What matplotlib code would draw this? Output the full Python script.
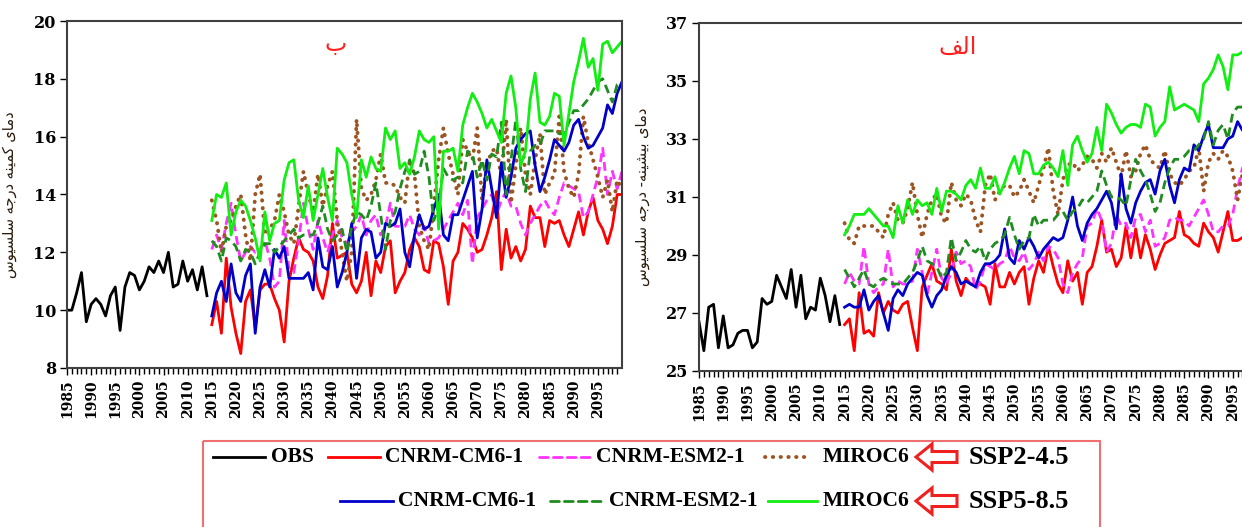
import numpy as np
import matplotlib
matplotlib.use("Agg")
import matplotlib.pyplot as plt
from matplotlib.patches import Rectangle, FancyArrow
from matplotlib.lines import Line2D

# ---------------- data ----------------
obs_years = list(range(1985, 2015))
fut_years = list(range(2015, 2101))

# Panel "ب" : minimum temperature
obs_min = [10.0, 10.0, 10.6, 11.3, 9.6, 10.2, 10.4, 10.2, 9.8, 10.5,
           10.8, 9.3, 10.8, 11.3, 11.2, 10.7, 11.0, 11.5, 11.3, 11.7,
           11.3, 12.0, 10.8, 10.9, 11.7, 11.0, 11.4, 10.7, 11.5, 10.5]

cm6_245_min = [9.5, 10.3, 9.2, 11.8, 10.1, 9.2, 8.5, 10.3, 10.7, 9.4,
               10.7, 10.9, 10.9, 10.4, 10.0, 8.9, 11.0, 11.8, 12.5, 12.1,
               12.0, 11.7, 10.8, 10.4, 11.2, 13.0, 11.8, 11.9, 12.0, 10.9,
               10.6, 11.0, 12.0, 10.5, 11.7, 11.3, 12.2, 12.4, 10.6, 11.0,
               11.3, 12.1, 12.5, 12.2, 11.4, 11.3, 12.4, 12.3, 11.5, 10.2,
               11.7, 12.0, 13.0, 12.8, 12.5, 12.0, 12.1, 12.6, 13.2, 14.1,
               11.4, 12.8, 11.8, 12.2, 11.7, 12.1, 13.6, 13.2, 13.2, 12.2,
               13.1, 13.0, 13.1, 12.6, 12.2, 12.8, 13.4, 12.6, 13.4, 13.9,
               13.1, 12.8, 12.3, 12.9, 14.0, 14.0]

esm2_245_min = [12.1, 12.6, 12.1, 13.0, 13.7, 12.6, 11.7, 12.0, 12.2, 12.0,
                12.1, 12.4, 11.8, 10.8, 11.0, 13.1, 11.4, 11.3, 12.4, 13.7,
                12.8, 12.1, 13.1, 12.5, 12.0, 12.6, 13.1, 12.5, 12.3, 12.7,
                12.9, 13.3, 12.6, 13.1, 13.3, 12.6, 12.9, 13.7, 12.9, 12.9,
                12.9, 13.3, 12.8, 12.6, 12.9, 12.3, 12.4, 12.5, 12.8, 13.1,
                13.4, 13.7, 13.3, 13.8, 11.6, 13.2, 13.5, 13.8, 14.0, 13.3,
                13.8, 14.1, 13.6, 13.6, 13.0, 12.6, 13.0, 13.3, 13.6, 13.8,
                13.5, 13.3, 13.9, 14.4, 14.3, 14.2, 14.1, 13.2, 13.4, 14.0,
                14.6, 15.6, 14.0, 14.8, 14.2, 14.8]

miroc_245_min = [13.8, 13.1, 12.0, 12.9, 13.1, 13.6, 14.0, 12.6, 11.7, 14.0,
                 14.7, 12.6, 12.8, 13.1, 14.0, 13.4, 12.6, 12.3, 13.6, 14.8,
                 14.0, 13.4, 14.7, 13.6, 14.3, 14.8, 13.1, 12.0, 11.0, 12.0,
                 16.6, 14.2, 13.8, 14.0, 14.5, 15.4, 14.4, 14.4, 14.3, 13.9,
                 13.7, 15.2, 14.7, 12.9, 12.4, 12.1, 13.6, 15.2, 16.3, 15.4,
                 14.7, 14.0, 15.9, 15.5, 15.2, 16.3, 13.8, 15.0, 15.5, 15.6,
                 14.6, 16.6, 13.7, 15.0, 16.3, 14.7, 14.0, 15.2, 16.1, 14.0,
                 14.4, 14.7, 16.7, 14.8, 14.2, 13.9, 14.7, 16.7, 15.8, 15.2,
                 14.6, 13.9, 14.5, 13.4, 14.5, 14.2]

cm6_585_min = [9.8, 10.6, 11.0, 10.3, 11.6, 10.6, 10.3, 11.2, 11.6, 9.2,
               10.8, 11.4, 10.8, 12.1, 11.8, 12.2, 11.1, 11.1, 11.1, 11.1,
               11.3, 10.7, 12.5, 11.5, 11.4, 12.2, 10.8, 11.3, 12.0, 13.0,
               11.1, 12.5, 12.8, 12.7, 11.8, 12.0, 13.0, 12.9, 13.0, 13.5,
               12.0, 11.5, 12.6, 13.3, 12.8, 12.9, 13.5, 14.0, 12.6, 12.4,
               13.3, 13.3, 13.8, 14.3, 14.8, 12.5, 13.5, 15.2, 14.2, 13.2,
               15.1, 13.9, 14.6, 15.6, 15.9, 16.1, 16.2, 15.0, 14.1, 14.6,
               15.2, 15.9, 15.7, 15.5, 15.8, 16.4, 16.6, 16.0, 15.6, 15.7,
               16.0, 16.3, 17.1, 16.8, 17.5, 17.9]

esm2_585_min = [12.4, 12.2, 11.7, 12.5, 12.4, 12.2, 11.7, 12.1, 12.0, 11.6,
                12.0, 12.3, 12.3, 12.0, 12.2, 12.4, 12.6, 12.8, 12.5, 12.6,
                12.6, 12.6, 13.0, 13.6, 12.8, 12.4, 12.6, 12.8, 12.0, 12.9,
                13.4, 13.3, 13.1, 13.6, 14.4, 13.3, 12.1, 13.1, 13.4, 14.2,
                14.8, 15.2, 14.7, 14.8, 15.5, 14.6, 13.1, 13.6, 14.9, 14.6,
                14.5, 14.6, 14.4, 15.5, 15.4, 14.6, 15.2, 14.5, 15.4, 15.3,
                16.5, 14.0, 15.2, 16.6, 14.9, 14.1, 15.5, 15.7, 15.7, 16.2,
                16.2, 16.2, 16.1, 16.1, 16.5, 16.9, 16.9, 17.1, 17.3, 17.6,
                17.9, 18.0, 17.6, 17.2, 17.8, 17.9]

miroc_585_min = [13.1, 14.0, 13.9, 14.4, 12.6, 13.4, 13.8, 13.6, 13.1, 12.5,
                 11.7, 13.4, 12.4, 13.0, 13.1, 14.5, 15.1, 15.2, 13.8, 13.2,
                 14.3, 13.1, 14.0, 14.9, 13.9, 13.1, 15.6, 15.4, 15.1, 14.0,
                 13.2, 15.2, 14.6, 15.3, 14.9, 14.8, 16.3, 15.9, 16.2, 14.9,
                 15.1, 14.7, 15.3, 16.2, 15.9, 15.8, 16.0, 12.8, 15.5, 15.5,
                 15.6, 14.8, 16.4, 17.0, 17.5, 17.2, 16.8, 16.3, 16.6, 16.2,
                 15.8, 17.5, 18.1, 17.0, 15.0, 15.5, 17.3, 18.2, 16.5, 16.4,
                 16.7, 17.5, 17.4, 15.7, 16.8, 17.9, 18.6, 19.4, 18.4, 18.7,
                 17.6, 19.2, 19.3, 18.9, 19.1, 19.3]

# Panel "الف" : maximum temperature
obs_max = [26.7, 25.7, 27.2, 27.3, 25.8, 26.9, 25.8, 25.9, 26.3, 26.4,
           26.4, 25.8, 26.0, 27.5, 27.3, 27.4, 28.3, 27.9, 27.5, 28.5,
           27.2, 28.3, 26.8, 27.2, 27.1, 28.2, 27.6, 26.7, 27.6, 26.6]

cm6_245_max = [26.6, 26.8, 25.7, 27.7, 26.3, 26.4, 26.2, 27.7, 27.0, 27.4,
               27.1, 27.0, 27.3, 27.4, 26.5, 25.7, 27.9, 28.3, 28.7, 28.1,
               28.0, 27.8, 29.2, 28.1, 27.6, 28.2, 28.0, 28.0, 28.0, 27.9,
               27.3, 28.7, 27.9, 27.9, 28.4, 28.0, 28.4, 28.6, 27.3, 28.2,
               28.8, 28.4, 29.3, 28.6, 28.0, 27.7, 28.8, 28.1, 28.4, 27.3,
               28.4, 28.6, 29.3, 30.2, 29.1, 29.2, 28.6, 28.9, 30.0, 28.9,
               29.9, 28.9, 29.7, 29.2, 28.5, 29.0, 29.4, 29.5, 29.6, 30.5,
               29.7, 29.6, 29.4, 29.3, 30.1, 29.8, 29.6, 29.1, 29.8, 30.5,
               29.5, 29.5, 29.6, 29.8, 30.0, 30.1]

esm2_245_max = [28.0, 28.4, 28.1, 28.0, 29.3, 28.0, 27.7, 27.9, 28.0, 29.2,
                27.9, 28.1, 28.0, 28.0, 28.1, 29.2, 28.4, 27.6, 28.4, 29.2,
                28.2, 28.0, 28.4, 29.1, 28.7, 28.8, 28.6, 27.8, 28.1, 28.7,
                28.6, 28.5, 28.7, 28.8, 29.3, 28.9, 28.8, 29.1, 28.5, 28.7,
                29.1, 28.8, 29.3, 29.2, 28.9, 28.0, 27.7, 28.4, 28.7, 28.9,
                30.0, 30.1, 30.6, 30.2, 29.1, 29.4, 30.4, 30.0, 30.1, 29.6,
                30.3, 30.4, 29.8, 30.2, 29.3, 29.4, 29.6, 30.2, 30.3, 30.2,
                30.2, 30.0, 30.3, 30.6, 30.9, 30.4, 29.8, 29.8, 30.0, 30.0,
                30.4, 31.3, 32.0, 31.8, 31.9, 31.8]

miroc_245_max = [30.1, 29.5, 29.4, 30.0, 30.0, 30.0, 30.0, 29.8, 29.6, 30.4,
                 30.8, 30.2, 30.1, 30.6, 31.5, 30.4, 29.6, 30.4, 30.9, 31.1,
                 30.3, 30.1, 31.5, 30.9, 30.7, 31.1, 30.9, 30.2, 29.8, 31.4,
                 31.8, 30.9, 31.2, 31.4, 31.4, 31.0, 31.2, 31.6, 31.2, 30.8,
                 31.4, 32.0, 32.7, 31.2, 30.4, 31.6, 32.1, 32.2, 31.9, 32.1,
                 32.4, 32.3, 32.0, 32.5, 32.2, 32.7, 32.2, 31.7, 32.6, 31.7,
                 31.9, 32.5, 32.8, 32.3, 32.1, 32.0, 32.6, 31.8, 31.5, 31.4,
                 31.6, 31.9, 32.0, 32.7, 31.2, 32.2, 32.5, 32.3, 32.6, 32.4,
                 31.9, 30.9, 31.8, 31.5, 31.6, 31.3]

cm6_585_max = [27.2, 27.3, 27.2, 27.2, 27.8, 27.1, 27.4, 27.6, 27.0, 26.4,
               27.5, 27.8, 27.6, 28.0, 28.2, 28.4, 28.3, 27.6, 27.2, 27.6,
               27.8, 28.3, 28.6, 28.4, 28.0, 28.1, 28.0, 27.9, 28.4, 28.7,
               28.7, 28.8, 29.0, 29.9, 28.9, 28.7, 29.5, 29.2, 29.6, 29.3,
               28.9, 29.2, 29.4, 29.6, 29.5, 29.6, 30.2, 31.0, 30.0, 29.5,
               30.1, 30.4, 30.6, 30.9, 31.2, 30.8, 29.9, 31.8, 30.6, 30.1,
               30.8, 31.2, 31.5, 31.6, 31.1, 31.9, 32.3, 31.4, 30.8, 31.6,
               32.0, 31.9, 32.8, 32.6, 33.1, 33.5, 32.7, 32.7, 32.7, 33.0,
               33.1, 33.6, 33.3, 33.5, 33.7, 33.6]

esm2_585_max = [28.5, 28.2, 27.9, 28.2, 28.5, 28.0, 27.9, 28.1, 28.2, 28.1,
                28.0, 28.0, 28.0, 28.2, 28.4, 28.8, 29.3, 28.8, 28.7, 28.6,
                28.2, 28.4, 29.6, 28.8, 29.1, 29.5, 29.2, 29.1, 29.3, 28.8,
                29.2, 29.4, 29.5, 29.7, 30.3, 29.7, 29.2, 29.5, 29.6, 30.4,
                30.0, 30.2, 30.2, 30.2, 30.4, 30.5, 30.2, 30.5, 30.6, 30.9,
                30.8, 31.0, 31.2, 31.9, 31.4, 31.0, 31.0, 30.9, 30.7, 31.6,
                32.3, 31.9, 31.6, 31.1, 30.5, 30.8, 31.5, 32.0, 32.3, 32.3,
                32.4, 32.6, 32.6, 32.8, 33.0, 33.6, 32.8, 33.3, 33.5, 33.0,
                33.9, 34.1, 34.1, 34.0, 34.1, 34.2]

miroc_585_max = [29.7, 30.0, 30.4, 30.4, 30.4, 30.6, 30.4, 30.2, 30.0, 30.0,
                 29.6, 30.7, 30.1, 30.9, 30.4, 30.9, 30.7, 30.8, 30.4, 31.3,
                 30.5, 31.2, 31.2, 31.1, 30.9, 31.4, 31.6, 31.3, 32.0, 31.3,
                 31.3, 31.7, 31.1, 31.5, 32.0, 32.4, 31.8, 32.6, 32.5, 31.8,
                 31.8, 32.1, 32.2, 32.0, 31.7, 32.6, 31.4, 32.8, 33.1, 32.6,
                 32.2, 32.5, 33.4, 32.6, 34.2, 33.9, 33.5, 33.2, 33.4, 33.5,
                 33.5, 33.4, 34.2, 34.1, 33.1, 33.4, 33.6, 34.8, 34.0, 34.1,
                 34.2, 34.1, 34.0, 33.6, 34.9, 35.1, 35.4, 35.9, 35.5, 34.7,
                 35.9, 35.9, 36.0, 36.1, 36.2, 36.3]

for s in (cm6_245_min, esm2_245_min, miroc_245_min, cm6_585_min, esm2_585_min,
          miroc_585_min, cm6_245_max, esm2_245_max, miroc_245_max, cm6_585_max,
          esm2_585_max, miroc_585_max):
    assert len(s) == len(fut_years), len(s)

x_ticks = list(range(1985, 2100, 5))

ylabel_min = "دمای کمینه درجه سلسیوس"
ylabel_max = "دمای بیشینه- درجه سلسیوس"
title_min = "ب"
title_max = "الف"

legend_row1 = ["OBS", "CNRM-CM6-1", "CNRM-ESM2-1", "MIROC6", "SSP2-4.5"]
legend_row2 = ["CNRM-CM6-1", "CNRM-ESM2-1", "MIROC6", "SSP5-8.5"]

# -------------- minimal Arabic-script shaping --------------
FORMS = {
    '\u0627': ('\uFE8D', '\uFE8E', None, None),
    '\u0628': ('\uFE8F', '\uFE90', '\uFE91', '\uFE92'),
    '\u062C': ('\uFE9D', '\uFE9E', '\uFE9F', '\uFEA0'),
    '\u062F': ('\uFEA9', '\uFEAA', None, None),
    '\u0631': ('\uFEAD', '\uFEAE', None, None),
    '\u0633': ('\uFEB1', '\uFEB2', '\uFEB3', '\uFEB4'),
    '\u0634': ('\uFEB5', '\uFEB6', '\uFEB7', '\uFEB8'),
    '\u0641': ('\uFED1', '\uFED2', '\uFED3', '\uFED4'),
    '\u0643': ('\uFED9', '\uFEDA', '\uFEDB', '\uFEDC'),
    '\u06A9': ('\uFED9', '\uFEDA', '\uFEDB', '\uFEDC'),
    '\u0644': ('\uFEDD', '\uFEDE', '\uFEDF', '\uFEE0'),
    '\u0645': ('\uFEE1', '\uFEE2', '\uFEE3', '\uFEE4'),
    '\u0646': ('\uFEE5', '\uFEE6', '\uFEE7', '\uFEE8'),
    '\u0647': ('\uFEE9', '\uFEEA', '\uFEEB', '\uFEEC'),
    '\u0648': ('\uFEED', '\uFEEE', None, None),
    '\u064A': ('\uFEEF', '\uFEF0', '\uFEF3', '\uFEF4'),
    '\u06CC': ('\uFEEF', '\uFEF0', '\uFEF3', '\uFEF4'),
}


def shape(s):
    out = []
    for i, c in enumerate(s):
        if c not in FORMS:
            out.append(c)
            continue
        f = FORMS[c]
        prev = s[i - 1] if i > 0 else ''
        nxt = s[i + 1] if i + 1 < len(s) else ''
        jp = prev in FORMS and FORMS[prev][2] is not None
        jn = nxt in FORMS and f[2] is not None
        if jp and jn:
            out.append(f[3])
        elif jp:
            out.append(f[1])
        elif jn:
            out.append(f[2])
        else:
            out.append(f[0])
    return ''.join(reversed(out))


# -------------- styles --------------
C_OBS = 'black'
C_RED = '#ff0000'
C_MAG = '#ff33ff'
C_BRN = '#9c5522'
C_BLU = '#0000c8'
C_DGR = '#1e8c1e'
C_GRN = '#11ee11'
LW = 2.0
DOT = (0, (0.1, 1.9))
DASH = (0, (3.2, 1.8))
SERIF = 'Liberation Serif'
TICKFONT = 'DejaVu Serif'

W, H = 1242, 527
fig = plt.figure(figsize=(W / 100, H / 100), dpi=100)
fig.patch.set_facecolor('white')

axL = fig.add_axes([67 / W, 1 - 368 / H, 555 / W, 347 / H])
axR = fig.add_axes([699 / W, 1 - 371 / H, 558 / W, 348 / H])


def draw(ax, obs, r, m, b, bl, dg, g, ylim, yt):
    ax.plot(obs_years, obs, color=C_OBS, lw=LW)
    ax.plot(fut_years, r, color=C_RED, lw=LW)
    ax.plot(fut_years, m, color=C_MAG, lw=LW, ls=DASH)
    ax.plot(fut_years, b, color=C_BRN, lw=2.8, ls=DOT, dash_capstyle='round')
    ax.plot(fut_years, bl, color=C_BLU, lw=LW)
    ax.plot(fut_years, dg, color=C_DGR, lw=LW, ls=DASH)
    ax.plot(fut_years, g, color=C_GRN, lw=LW)
    ax.set_xlim(1985, 2100)
    ax.set_ylim(*ylim)
    ax.set_xticks(x_ticks)
    ax.set_xticks(range(1985, 2100), minor=True)
    ax.set_xticklabels([str(t) for t in x_ticks], rotation=90,
                       fontfamily=TICKFONT, fontweight='bold', fontsize=10)
    ax.set_yticks(yt)
    ax.set_yticklabels([str(t) for t in yt], fontfamily=TICKFONT,
                       fontweight='bold', fontsize=11.5)
    ax.tick_params(axis='x', which='major', direction='out', length=5, width=1, pad=3)
    ax.tick_params(axis='x', which='minor', direction='out', length=4, width=1)
    ax.tick_params(axis='y', direction='out', length=5, width=1, pad=3)
    for sp in ax.spines.values():
        sp.set_color('#404040')
        sp.set_linewidth(1.5)


draw(axL, obs_min, cm6_245_min, esm2_245_min, miroc_245_min,
     cm6_585_min, esm2_585_min, miroc_585_min, (8, 20), list(range(8, 21, 2)))
draw(axR, obs_max, cm6_245_max, esm2_245_max, miroc_245_max,
     cm6_585_max, esm2_585_max, miroc_585_max, (25, 37), list(range(25, 38, 2)))

axL.set_ylabel(shape(ylabel_min), fontfamily='DejaVu Sans', fontsize=10.5, color='#2a1a0a')
axL.yaxis.set_label_coords(-0.09, 0.5)
axR.set_ylabel(shape(ylabel_max), fontfamily='DejaVu Sans', fontsize=10.5, color='#2a1a0a')
axR.yaxis.set_label_coords(-0.088, 0.5)

axL.text(0.483, 0.935, shape(title_min), transform=axL.transAxes, color='#ff2020',
         fontsize=17, fontfamily='DejaVu Sans', ha='center', va='center')
axR.text(0.464, 0.93, shape(title_max), transform=axR.transAxes, color='#ff2020',
         fontsize=17, fontfamily='DejaVu Sans', ha='center', va='center')

# -------------- custom legend --------------
ov = fig.add_axes([0, 0, 1, 1], zorder=10)
ov.set_xlim(0, W)
ov.set_ylim(H, 0)
ov.axis('off')
ov.patch.set_alpha(0)

ov.add_patch(Rectangle((203, 441), 1100 - 203, 120, fill=False,
                       edgecolor='#ee7070', lw=1.5))

y1, y2 = 457, 501
handles1 = [((213, 265), C_OBS, '-', LW), ((328, 380), C_RED, '-', LW),
            ((539, 590), C_MAG, DASH, LW), ((765, 806), C_BRN, DOT, 2.8)]
text_x1 = [271, 385, 596, 823]
handles2 = [((340, 393), C_BLU, '-', LW), ((550, 602), C_DGR, DASH, LW),
            ((768, 817), C_GRN, '-', LW)]
text_x2 = [398, 609, 823]

for (xx, c, ls, lw), tx, lab in zip(handles1, text_x1, legend_row1[:4]):
    ov.add_line(Line2D(xx, (y1, y1), color=c, ls=ls, lw=lw, dash_capstyle='round'))
    ov.text(tx, y1, lab, fontfamily=SERIF, fontweight='bold', fontsize=15.5,
            ha='left', va='center')
for (xx, c, ls, lw), tx, lab in zip(handles2, text_x2, legend_row2[:3]):
    ov.add_line(Line2D(xx, (y2, y2), color=c, ls=ls, lw=lw, dash_capstyle='round'))
    ov.text(tx, y2, lab, fontfamily=SERIF, fontweight='bold', fontsize=15.5,
            ha='left', va='center')

for yy, lab in ((y1, legend_row1[4]), (y2, legend_row2[3])):
    ov.add_patch(FancyArrow(957, yy, -41, 0, width=11, head_width=26, head_length=16,
                            length_includes_head=True, facecolor='white',
                            edgecolor='#ee2020', lw=2.2))
    ov.text(969, yy + 1, lab, fontfamily=SERIF, fontweight='bold', fontsize=19,
            ha='left', va='center')

fig.savefig('out.png', dpi=100, facecolor='white')
